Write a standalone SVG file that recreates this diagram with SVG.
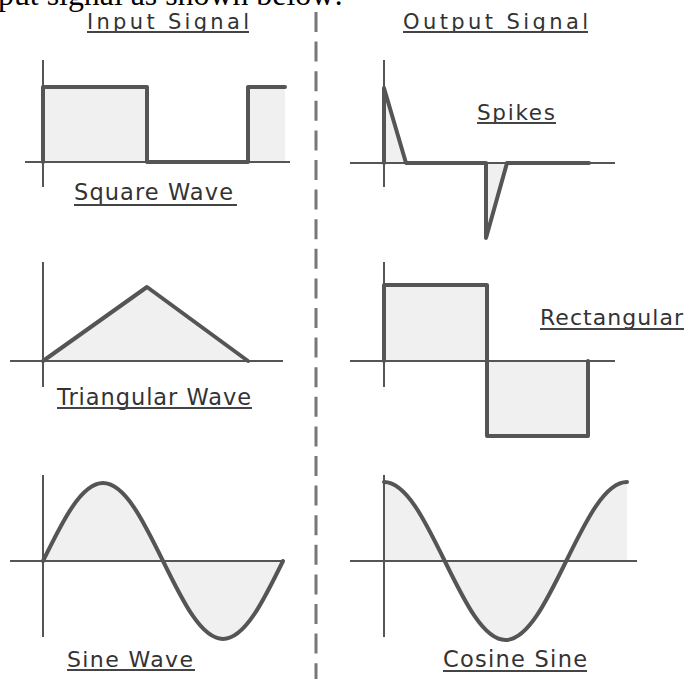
<svg xmlns="http://www.w3.org/2000/svg" width="684" height="679" viewBox="0 0 684 679">
<style>
.bg{fill:#ffffff}
.axis{stroke:#555;stroke-width:2;fill:none}
.wave{stroke:#555;stroke-width:4;fill:none;stroke-linejoin:round;stroke-linecap:round}
.fill{fill:#f0f0f0;stroke:none}
.lbl{font-family:"DejaVu Sans",Verdana,sans-serif;fill:#333}
.ul{stroke:#444;stroke-width:2}
.top{font-family:"Liberation Serif","Times New Roman",serif;font-size:32px;fill:#000}
</style>
<rect class="bg" x="0" y="0" width="684" height="679"/>
<text class="top" x="-2" y="5" textLength="345" lengthAdjust="spacingAndGlyphs">put signal as shown below:</text>

<g id="headers">
<text class="lbl" x="87" y="29" font-size="21" textLength="162" lengthAdjust="spacing">Input Signal</text>
<line class="ul" x1="87" y1="32" x2="249" y2="32"/>
<text class="lbl" x="403" y="29" font-size="21" textLength="185" lengthAdjust="spacing">Output Signal</text>
<line class="ul" x1="403" y1="32" x2="588" y2="32"/>
</g>

<g id="connectors">
<line x1="316" y1="12" x2="316" y2="679" stroke="#777" stroke-width="3" stroke-dasharray="20 9.6"/>
</g>

<g id="square-wave">
<rect class="fill" x="43" y="87" width="104" height="75"/>
<rect class="fill" x="248" y="87" width="37" height="75"/>
<line class="axis" x1="43" y1="60" x2="43" y2="187"/>
<line class="axis" x1="25" y1="162" x2="290" y2="162"/>
<path class="wave" d="M43,162 V87 H147 V162 H248 V87 H285"/>
<text class="lbl" x="74" y="200" font-size="22.5" textLength="159" lengthAdjust="spacing">Square Wave</text>
<line class="ul" x1="74" y1="205" x2="237" y2="205"/>
</g>

<g id="spikes">
<polygon class="fill" points="384,88 406,163 384,163"/>
<polygon class="fill" points="486,163 486,238 507,163"/>
<line class="axis" x1="384" y1="60" x2="384" y2="187"/>
<line class="axis" x1="350" y1="163" x2="615" y2="163"/>
<path class="wave" d="M384,163 V88 L406,163 H486 V238 L507,163 H589"/>
<text class="lbl" x="477" y="120" font-size="21.5" textLength="78" lengthAdjust="spacing">Spikes</text>
<line class="ul" x1="477" y1="123" x2="556" y2="123"/>
</g>

<g id="triangular-wave">
<polygon class="fill" points="43,361 147,287 248,361"/>
<line class="axis" x1="43" y1="262" x2="43" y2="387"/>
<line class="axis" x1="10" y1="361" x2="283" y2="361"/>
<path class="wave" d="M43,361 L147,287 L248,361"/>
<text class="lbl" x="57" y="405" font-size="22.5" textLength="194" lengthAdjust="spacing">Triangular Wave</text>
<line class="ul" x1="57" y1="408" x2="252" y2="408"/>
</g>

<g id="rectangular">
<rect class="fill" x="384" y="285" width="103" height="76"/>
<rect class="fill" x="487" y="361" width="101" height="75"/>
<line class="axis" x1="384" y1="262" x2="384" y2="387"/>
<line class="axis" x1="350" y1="361" x2="615" y2="361"/>
<path class="wave" d="M384,361 V285 H487 V436 H588 V361"/>
<text class="lbl" x="540" y="325" font-size="22" textLength="143" lengthAdjust="spacing">Rectangular</text>
<line class="ul" x1="540" y1="329" x2="684" y2="329"/>
</g>

<g id="sine-wave">
<path class="fill" d="M43,561 C62.57,521.04 81.28,483 103,483 C124.72,483 143.43,521.04 163,561 C182.57,600.96 201.28,639 223,639 C244.72,639 263.43,600.96 283,561 Z"/>
<line class="axis" x1="43" y1="475" x2="43" y2="637"/>
<line class="axis" x1="10" y1="561" x2="283" y2="561"/>
<path class="wave" d="M43,561 C62.57,521.04 81.28,483 103,483 C124.72,483 143.43,521.04 163,561 C182.57,600.96 201.28,639 223,639 C244.72,639 263.43,600.96 283,561"/>
<text class="lbl" x="67" y="667" font-size="22" textLength="126" lengthAdjust="spacing">Sine Wave</text>
<line class="ul" x1="67" y1="670" x2="195" y2="670"/>
</g>

<g id="cosine-sine">
<path class="fill" d="M384,561 L384,482 C405.99,482 424.94,520.53 444.75,561 C464.56,601.47 483.51,640 505.5,640 C527.49,640 546.44,601.47 566.25,561 C586.06,520.53 605.01,482 627,482 L627,561 Z"/>
<line class="axis" x1="384" y1="475" x2="384" y2="637"/>
<line class="axis" x1="350" y1="561" x2="637" y2="561"/>
<path class="wave" d="M384,482 C405.99,482 424.94,520.53 444.75,561 C464.56,601.47 483.51,640 505.5,640 C527.49,640 546.44,601.47 566.25,561 C586.06,520.53 605.01,482 627,482"/>
<text class="lbl" x="443" y="667" font-size="22.5" textLength="144" lengthAdjust="spacing">Cosine Sine</text>
<line class="ul" x1="443" y1="671" x2="587" y2="671"/>
</g>
</svg>
